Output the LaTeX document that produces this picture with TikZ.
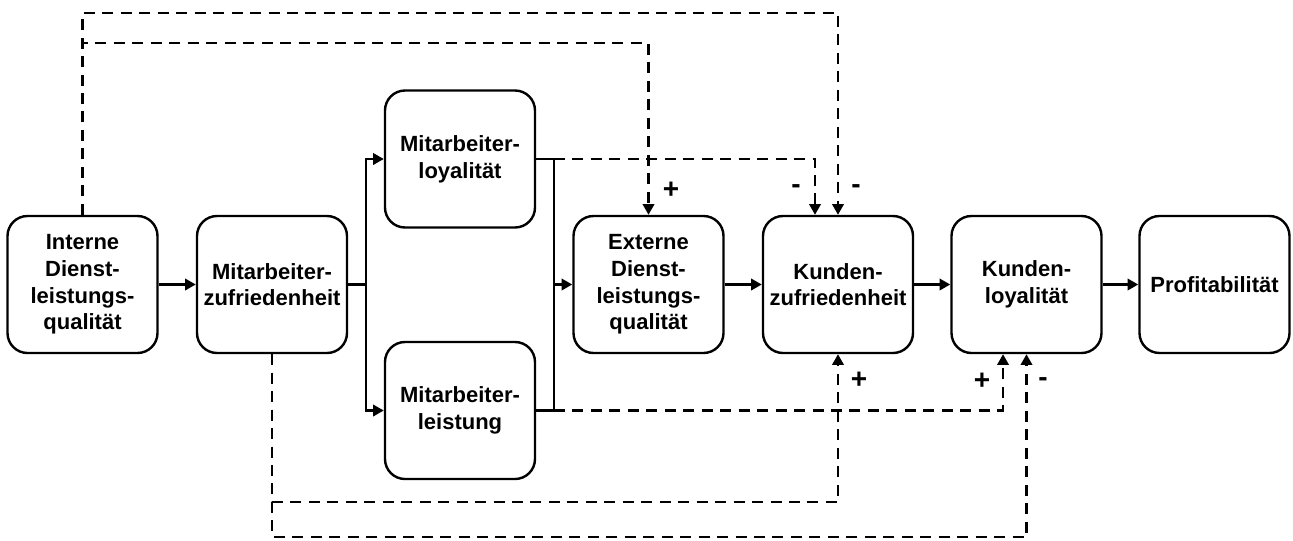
\documentclass[tikz,border=0pt]{standalone}
\usepackage{fontspec}
\setmainfont{Liberation Sans}
\usetikzlibrary{arrows.meta}
\tikzset{>={Triangle[width=8.5pt,length=8pt]}}
\tikzset{
  box/.style={draw, line width=1.8pt, rounded corners=15pt, minimum width=112.5pt,
    minimum height=102.75pt, align=center, font=\fontsize{16.5}{20}\selectfont\bfseries},
  conn/.style={line width=1.8pt},
  fb/.style={line width=1.8pt, dash pattern=on 8.25pt off 5.6pt},
  sign/.style={font=\fontsize{21}{24}\selectfont\bfseries}
}

\begin{document}
\begin{tikzpicture}[x=0.75pt, y=-0.75pt]

  \useasboundingbox (0,0) rectangle (1293,540);

  % main row
  \node[box] (intern) at (82.5,284.5) {Interne\\Dienst-\\leistungs-\\qualität};
  \node[box] (mazuf) at (272,284.5) {Mitarbeiter-\\zufriedenheit};
  \node[box] (maloy) at (460,159) {Mitarbeiter-\\loyalität};
  \node[box] (maleist) at (460,410.5) {Mitarbeiter-\\leistung};
  \node[box] (extern) at (648.5,284.5) {Externe\\Dienst-\\leistungs-\\qualität};
  \node[box] (kzuf) at (838,284.5) {Kunden-\\zufriedenheit};
  \node[box] (kloy) at (1026.5,284.5) {Kunden-\\loyalität};
  \node[box] (profit) at (1214.5,284.5) {Profitabilität};

  % bus lines and levels of the feedback paths
  \coordinate (bl) at (366,0);
  \coordinate (br) at (554,0);
  \coordinate (r1) at (0,13);
  \coordinate (r2) at (0,43);
  \coordinate (r5) at (0,502);
  \coordinate (r6) at (0,537);

  \draw[conn,->] (intern) -- (mazuf);
  \draw[conn] (mazuf) -- (mazuf -| bl);
  \draw[conn,->] (mazuf -| bl) |- (maloy);
  \draw[conn,->] (mazuf -| bl) |- (maleist);
  \draw[conn] (maloy.east) -- (maloy.east -| br) -- (maleist.east -| br) -- (maleist.east);
  \draw[conn,->] (extern.west -| br) -- (extern);
  \draw[conn,->] (extern) -- (kzuf);
  \draw[conn,->] (kzuf) -- (kloy);
  \draw[conn,->] (kloy) -- (profit);

  % dashed paths
  \draw[fb,->] (intern.north) -- (intern.north |- r1) -| (kzuf.north);
  \draw[fb,->] (intern.north) -- (intern.north |- r2) -| (extern.north);
  \draw[fb,->] (maloy.east -| br) -| ([xshift=-17.25pt]kzuf.north);
  \draw[fb,->] (maleist.east -| br) -| ([xshift=-17.6pt]kloy.south);
  \draw[fb,->] (mazuf.south) -- (mazuf.south |- r5) -| (kzuf.south);
  \draw[fb,->] (mazuf.south) -- (mazuf.south |- r6) -| (kloy.south);

  % signs
  \node[sign] (s1) at (671,190) {+};
  \node[sign] (s2) at (796,189) {-};
  \node[sign] (s3) at (856,189) {-};
  \node[sign] (s4) at (859,380) {+};
  \node[sign] (s5) at (982,381) {+};
  \node[sign] (s6) at (1043,382) {-};

\end{tikzpicture}
\end{document}
